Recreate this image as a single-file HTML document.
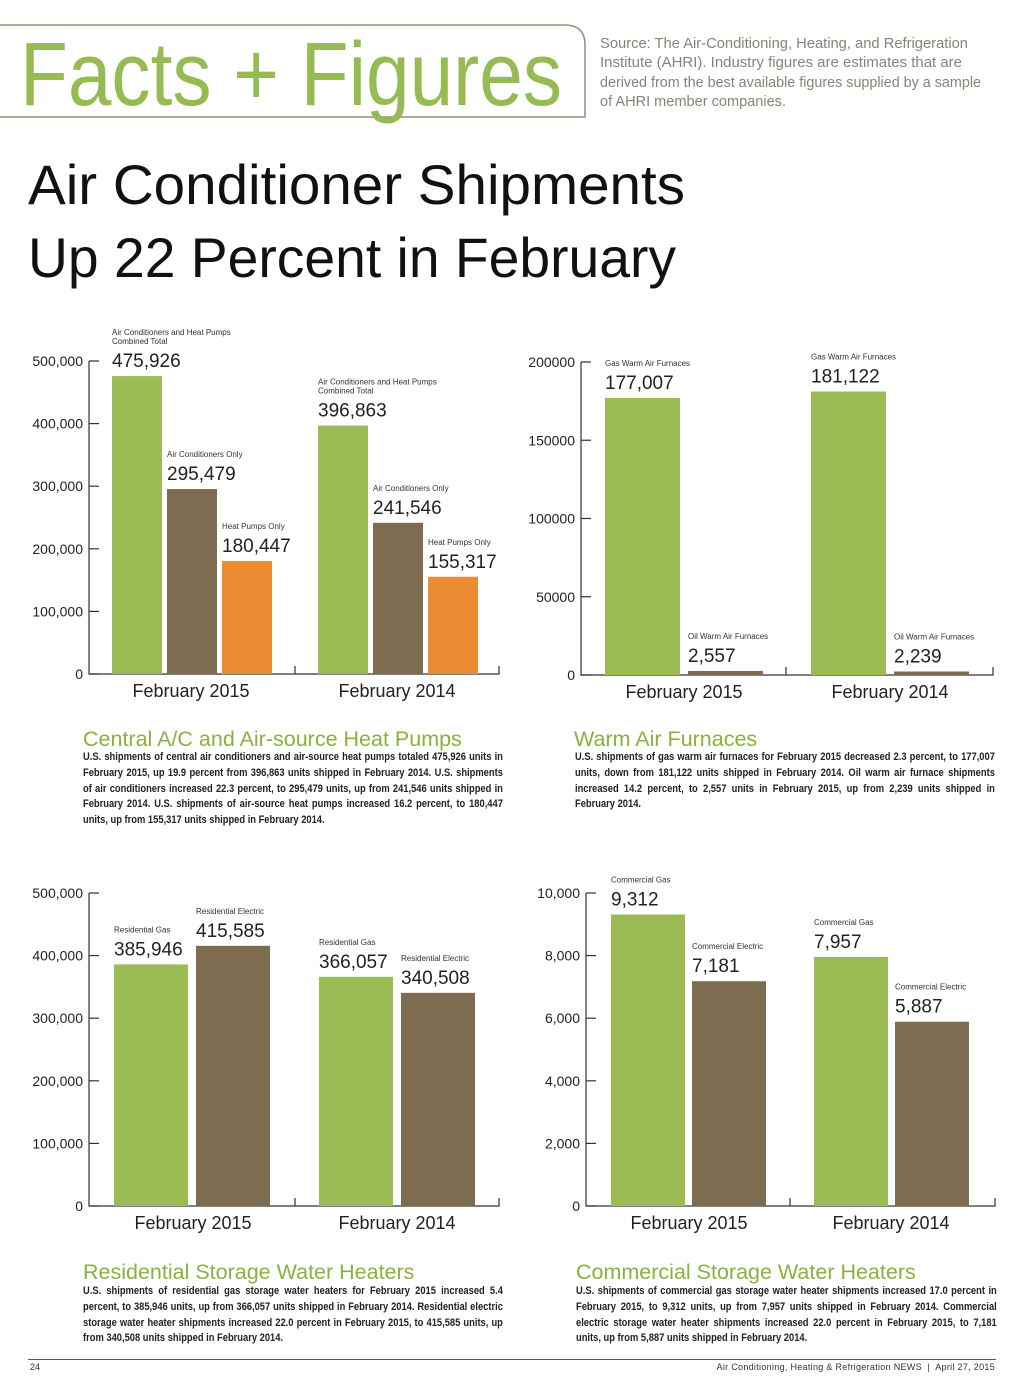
<!DOCTYPE html>
<html><head><meta charset="utf-8">
<style>
html,body{margin:0;padding:0;background:#fff;}
body{width:1024px;height:1389px;position:relative;overflow:hidden;font-family:"Liberation Sans",sans-serif;}
.abs{position:absolute;}
.para{position:absolute;font-family:"Liberation Sans",sans-serif;font-weight:bold;font-size:11px;line-height:15.8px;color:#222;text-align:justify;transform:scaleX(0.85);transform-origin:0 0;}
.h{position:absolute;font-size:21.5px;color:#8cb040;white-space:nowrap;}
</style></head><body>
<svg class="abs" style="left:0;top:0" width="1024" height="300">
<path d="M0 25 H565 Q585 25 585 45 V117 H0" fill="none" stroke="#9a8c78" stroke-width="1.5"/>
<text x="20" y="105" font-size="90" fill="#97bb53" textLength="542" lengthAdjust="spacingAndGlyphs">Facts + Figures</text>
<g font-size="14.5" fill="#8a8278">
<text x="600" y="48" textLength="368" lengthAdjust="spacingAndGlyphs">Source: The Air-Conditioning, Heating, and Refrigeration</text>
<text x="600" y="67" textLength="362" lengthAdjust="spacingAndGlyphs">Institute (AHRI). Industry figures are estimates that are</text>
<text x="600" y="87" textLength="381" lengthAdjust="spacingAndGlyphs">derived from the best available figures supplied by a sample</text>
<text x="600" y="106" textLength="186" lengthAdjust="spacingAndGlyphs">of AHRI member companies.</text>
</g>
<text x="28" y="204" font-size="56" fill="#111" textLength="657" lengthAdjust="spacingAndGlyphs">Air Conditioner Shipments</text>
<text x="28" y="277" font-size="56" fill="#111" textLength="648" lengthAdjust="spacingAndGlyphs">Up 22 Percent in February</text>
</svg>

<svg id="charts" class="abs" style="left:0;top:0" width="1024" height="1389"></svg>

<div class="h" style="left:83px;top:727px">Central A/C and Air-source Heat Pumps</div>
<div class="para" style="left:83px;top:750px;width:494px">U.S. shipments of central air conditioners and air-source heat pumps totaled 475,926 units in February 2015, up 19.9 percent from 396,863 units shipped in February 2014. U.S. shipments of air conditioners increased 22.3 percent, to 295,479 units, up from 241,546 units shipped in February 2014. U.S. shipments of air-source heat pumps increased 16.2 percent, to 180,447 units, up from 155,317 units shipped in February 2014.</div>
<div class="h" style="left:574px;top:727px">Warm Air Furnaces</div>
<div class="para" style="left:575px;top:750px;width:494px">U.S. shipments of gas warm air furnaces for February 2015 decreased 2.3 percent, to 177,007 units, down from 181,122 units shipped in February 2014. Oil warm air furnace shipments increased 14.2 percent, to 2,557 units in February 2015, up from 2,239 units shipped in February 2014.</div>
<div class="h" style="left:83px;top:1260px">Residential Storage Water Heaters</div>
<div class="para" style="left:83px;top:1284px;width:494px">U.S. shipments of residential gas storage water heaters for February 2015 increased 5.4 percent, to 385,946 units, up from 366,057 units shipped in February 2014. Residential electric storage water heater shipments increased 22.0 percent in February 2015, to 415,585 units, up from 340,508 units shipped in February 2014.</div>
<div class="h" style="left:576px;top:1260px">Commercial Storage Water Heaters</div>
<div class="para" style="left:576px;top:1284px;width:495px">U.S. shipments of commercial gas storage water heater shipments increased 17.0 percent in February 2015, to 9,312 units, up from 7,957 units shipped in February 2014. Commercial electric storage water heater shipments increased 22.0 percent in February 2015, to 7,181 units, up from 5,887 units shipped in February 2014.</div>

<div class="abs" style="left:28px;top:1359px;width:968px;border-top:1px solid #555"></div>
<div class="abs" style="left:30px;top:1362px;font-size:9px;color:#333">24</div>
<div class="abs" style="right:29px;top:1362px;font-size:9px;color:#333;letter-spacing:0.3px">Air Conditioning, Heating &amp; Refrigeration NEWS &nbsp;|&nbsp; April 27, 2015</div>

<script>
const categories = ["February 2015","February 2014"];
// Chart 1
const c1Values = [[475926,295479,180447],[396863,241546,155317]];
const c1Labels = [["Air Conditioners and Heat Pumps|Combined Total","Air Conditioners Only","Heat Pumps Only"],["Air Conditioners and Heat Pumps|Combined Total","Air Conditioners Only","Heat Pumps Only"]];
const c1Ticks = [0,100000,200000,300000,400000,500000];
const c1TickLabels = ["0","100,000","200,000","300,000","400,000","500,000"];
// Chart 2
const c2Values = [[177007,2557],[181122,2239]];
const c2Labels = [["Gas Warm Air Furnaces","Oil Warm Air Furnaces"],["Gas Warm Air Furnaces","Oil Warm Air Furnaces"]];
const c2Ticks = [0,50000,100000,150000,200000];
const c2TickLabels = ["0","50000","100000","150000","200000"];
// Chart 3
const c3Values = [[385946,415585],[366057,340508]];
const c3Labels = [["Residential Gas","Residential Electric"],["Residential Gas","Residential Electric"]];
const c3Ticks = [0,100000,200000,300000,400000,500000];
const c3TickLabels = ["0","100,000","200,000","300,000","400,000","500,000"];
// Chart 4
const c4Values = [[9312,7181],[7957,5887]];
const c4Labels = [["Commercial Gas","Commercial Electric"],["Commercial Gas","Commercial Electric"]];
const c4Ticks = [0,2000,4000,6000,8000,10000];
const c4TickLabels = ["0","2,000","4,000","6,000","8,000","10,000"];

const colors3 = ["#9bbb55","#7e6c50","#ec8d34"];
const NS = "http://www.w3.org/2000/svg";
const root = document.getElementById('charts');
function mk(tag, attrs, parent){const e=document.createElementNS(NS,tag);for(const k in attrs)e.setAttribute(k,attrs[k]);(parent||root).appendChild(e);return e;}
function fmt(v){return v.toLocaleString('en-US');}

function chart(id, cfg, values, labels, ticks, tickLabels){
  const g = mk('g',{});
  
  
  const max = ticks[ticks.length-1];
  const y = v => cfg.y0 - (cfg.y0-cfg.yTop)*v/max;
  const ax = mk('path',{d:`M${cfg.ax} ${cfg.yTop} V${cfg.y0} H${cfg.axEnd} V${cfg.y0-8} M${cfg.mid} ${cfg.y0} V${cfg.y0-8}`,fill:'none',stroke:'#333','stroke-width':1.2},g);
  
  
  ticks.forEach((t,i)=>{
    const tl = mk('line',{x1:cfg.ax,x2:cfg.ax+10,y1:y(t),y2:y(t),stroke:'#333','stroke-width':1.2},g);
    
    
    const tx = mk('text',{x:cfg.ax-6,y:y(t)+5,'text-anchor':'end','font-size':14,fill:'#222'},g);
    tx.textContent = tickLabels[i];
    
    
  });
  values.forEach((grp,gi)=>{
    grp.forEach((v,bi)=>{
      const bx = cfg.starts[gi] + bi*cfg.step;
      const top = y(v);
      const r = mk('rect',{x:bx,y:top,width:cfg.bw,height:cfg.y0-top,fill:cfg.colors[bi]},g);
      
      
      const vt = mk('text',{x:bx,y:top-9,'font-size':19,fill:'#222'},g);
      vt.textContent = fmt(v);
      
      
      const lines = labels[gi][bi].split('|');
      lines.forEach((ln,li)=>{
        const lt = mk('text',{x:bx,y:top-32-(lines.length-1-li)*9,'font-size':8,fill:'#333'},g);
        lt.textContent = ln;
        
        
      });
    });
    const ct = mk('text',{x:cfg.catX[gi],y:cfg.y0+23,'text-anchor':'middle','font-size':18,fill:'#222'},g);
    ct.textContent = categories[gi];
    
    
  });
}
chart('chart1',{ax:89,axEnd:499,mid:295,y0:674,yTop:361,starts:[112,318],step:55,bw:50,colors:colors3,catX:[191,397]},c1Values,c1Labels,c1Ticks,c1TickLabels);
chart('chart2',{ax:581,axEnd:993,mid:786,y0:675,yTop:362,starts:[605,811],step:83,bw:75,colors:colors3,catX:[684,890]},c2Values,c2Labels,c2Ticks,c2TickLabels);
chart('chart3',{ax:89,axEnd:499,mid:295,y0:1206,yTop:893,starts:[114,319],step:82,bw:74,colors:colors3,catX:[193,397]},c3Values,c3Labels,c3Ticks,c3TickLabels);
chart('chart4',{ax:586,axEnd:995,mid:790,y0:1206,yTop:893,starts:[611,814],step:81,bw:74,colors:colors3,catX:[689,891]},c4Values,c4Labels,c4Ticks,c4TickLabels);
</script>
</body></html>
